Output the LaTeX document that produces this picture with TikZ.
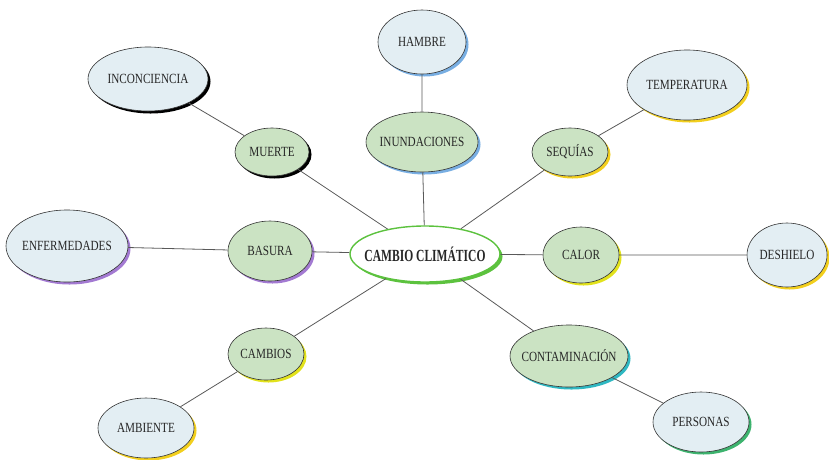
\documentclass[tikz,border=0pt]{standalone}
\usepackage{fontspec}
\setmainfont{Liberation Serif}
\usetikzlibrary{shapes.geometric,shadows}
\definecolor{hojaverde}{HTML}{CBE3C3}
\definecolor{hojaazul}{HTML}{E3EEF3}
\definecolor{somazul}{HTML}{78AEE2}
\definecolor{somamarillo}{HTML}{F2CF1E}
\definecolor{somlima}{HTML}{E2E21C}
\definecolor{sommorado}{HTML}{A37AD2}
\definecolor{somturquesa}{HTML}{2FB8C2}
\definecolor{somverde}{HTML}{3DB36E}
\definecolor{somcentro}{HTML}{5CC23E}
\newcommand{\lbl}[2][0.8]{\makebox[0pt]{\scalebox{#1}[1]{#2}}}

\begin{document}
\begin{tikzpicture}[x=1pt,y=-1pt,
  globo/.style={ellipse,draw=black!80,line width=0.6pt,inner sep=0pt,
    font=\fontsize{14}{16}\selectfont,text=black!85,
    drop shadow={shadow xshift=2.5pt,shadow yshift=-2.5pt,fill=#1,opacity=1}},
  verde/.style={globo=#1,fill=hojaverde},
  azul/.style={globo=#1,fill=hojaazul},
  rama/.style={draw=black!65,line width=0.8pt}]
\useasboundingbox (0,0) rectangle (829,459);
% centro
\node [ellipse,draw=somcentro,line width=1.4pt,fill=white,inner sep=0pt,
  minimum width=150pt,minimum height=56pt,
  drop shadow={shadow xshift=2.5pt,shadow yshift=-2.5pt,fill=somcentro,opacity=1},
  font=\bfseries\fontsize{17}{19}\selectfont,text=black!85] (cc) at (425,254) {\lbl[0.68]{CAMBIO CLIMÁTICO}};
% primer nivel
\node [verde=somazul,minimum width=112pt,minimum height=60pt] (inun) at (422,142) {\lbl{INUNDACIONES}};
\node [verde=black,minimum width=74pt,minimum height=48pt] (muer) at (272,152) {\lbl{MUERTE}};
\node [verde=somamarillo,minimum width=76pt,minimum height=48pt] (sequ) at (570,152) {\lbl{SEQUÍAS}};
\node [verde=sommorado,minimum width=84pt,minimum height=60pt] (basu) at (270,251) {\lbl{BASURA}};
\node [verde=somlima,minimum width=76pt,minimum height=56pt] (calo) at (581,255) {\lbl{CALOR}};
\node [verde=somlima,minimum width=76pt,minimum height=52pt] (camb) at (266,354) {\lbl{CAMBIOS}};
\node [verde=somturquesa,minimum width=118pt,minimum height=62pt] (cont) at (569,356) {\lbl{CONTAMINACIÓN}};
% segundo nivel
\node [azul=somazul,minimum width=88pt,minimum height=64pt] (hamb) at (422,42) {\lbl{HAMBRE}};
\node [azul=black,minimum width=120pt,minimum height=64pt] (inco) at (148,79) {\lbl{INCONCIENCIA}};
\node [azul=somamarillo,minimum width=120pt,minimum height=70pt] (temp) at (687,85) {\lbl{TEMPERATURA}};
\node [azul=sommorado,minimum width=122pt,minimum height=72pt] (enfe) at (67,246) {\lbl{ENFERMEDADES}};
\node [azul=somamarillo,minimum width=80pt,minimum height=64pt] (desh) at (787,255) {\lbl{DESHIELO}};
\node [azul=somamarillo,minimum width=96pt,minimum height=60pt] (ambi) at (146,428) {\lbl{AMBIENTE}};
\node [azul=somverde,minimum width=96pt,minimum height=60pt] (pers) at (701,422) {\lbl{PERSONAS}};
% ramas
\draw [rama] (cc) -- (inun) (inun) -- (hamb);
\draw [rama] (cc) -- (muer) (muer) -- (inco);
\draw [rama] (cc) -- (sequ) (sequ) -- (temp);
\draw [rama] (cc) -- (basu) (basu) -- (enfe);
\draw [rama] (cc) -- (calo) (calo) -- (desh);
\draw [rama] (cc) -- (camb) (camb) -- (ambi);
\draw [rama] (cc) -- (cont) (cont) -- (pers);
\end{tikzpicture}
\end{document}
